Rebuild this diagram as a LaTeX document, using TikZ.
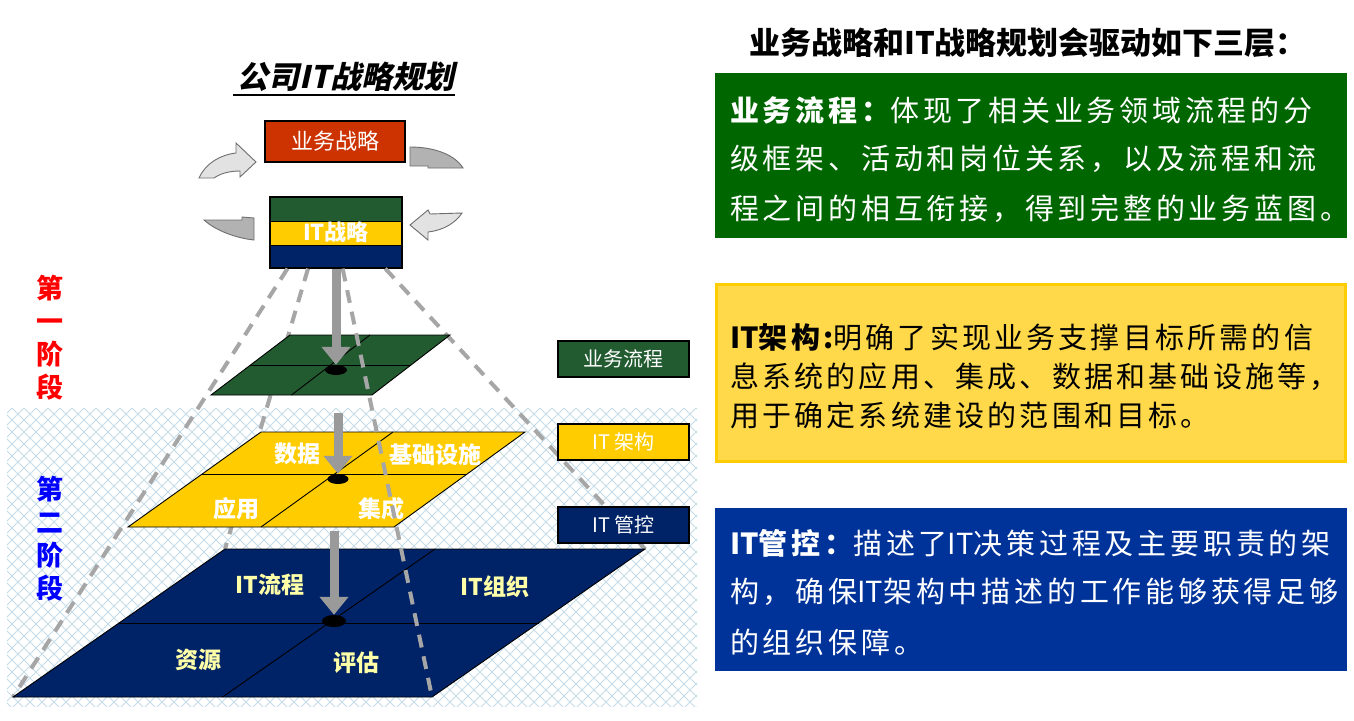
\documentclass[tikz,border=0pt]{standalone}
\usepackage{fontspec}
\setmainfont{Noto Sans CJK SC}
\newfontfamily\plainf{Noto Sans CJK SC}
\newfontfamily\wideA[LetterSpace=13]{Noto Sans CJK SC}
\newfontfamily\wideB[LetterSpace=11]{Noto Sans CJK SC}
\newfontfamily\slantf[FakeSlant=0.22]{Noto Sans CJK SC}
\usetikzlibrary{arrows.meta,calc,shapes.geometric}
\newcommand{\itx}{{\plainf IT}}

\definecolor{planegreen}{HTML}{235B31}
\definecolor{gold}{HTML}{FFCC00}
\definecolor{navy}{HTML}{002266}
\definecolor{brick}{HTML}{CC3300}
\definecolor{boxgreen}{HTML}{006600}
\definecolor{boxyellow}{HTML}{FFD94A}
\definecolor{boxblue}{HTML}{003399}
\definecolor{hatchc}{HTML}{C6DCE9}
\definecolor{dashgray}{HTML}{A6A6A6}
\definecolor{arrgray}{HTML}{9A9A9A}
\definecolor{paleyellow}{HTML}{FFFFA8}
\definecolor{lightarr}{HTML}{E2E2E2}
\definecolor{darkarr}{HTML}{B2B2B2}
\definecolor{arredge}{HTML}{6E6E6E}

\tikzset{
  smallbox/.style={draw=black, line width=1.2pt, minimum width=131pt, minimum height=36pt,
    inner sep=0pt, text=white, font=\fontsize{20}{24}\selectfont},
  plabel/.style={inner sep=0pt, font=\bfseries\fontsize{23}{26}\selectfont},
  stagetext/.style={inner sep=0pt, align=center, font=\bfseries\fontsize{27}{33}\selectfont},
  dashline/.style={dashgray, line width=4pt, dash pattern=on 13pt off 9pt},
  downarrow/.style={arrgray, line width=9pt, -{Triangle[length=18pt,width=28pt]}},
  dotshape/.style={ellipse, fill=black, inner sep=0pt},
  bodyw/.style={anchor=west, inner sep=0pt, text=white, font=\wideA\fontsize{29}{32}\selectfont},
  bodyy/.style={anchor=west, inner sep=0pt, text=black, font=\wideB\fontsize{29}{32}\selectfont},
  planeline/.style={black, line width=0.9pt},
  curvedlight/.style={fill=lightarr, draw=arredge, line width=0.9pt},
  curveddark/.style={fill=darkarr, draw=arredge, line width=0.9pt},
}

\begin{document}
\begin{tikzpicture}[x=1pt,y=-1pt]
\useasboundingbox[fill=white] (0,0) rectangle (1354,720);

% ---------- hatched background ----------
\begin{scope}
  \clip (7,408) rectangle (697,706);
  \foreach \i in {-300,-288,...,1000} {
    \draw[hatchc, line width=0.8pt] (\i,408) -- ++(300,300);
    \draw[hatchc, line width=0.8pt] (\i,408) -- ++(-300,300);
  }
\end{scope}

% ---------- plane corners ----------
\coordinate (NTL) at (225,549);
\coordinate (NTR) at (645,549);
\coordinate (NBR) at (432,697);
\coordinate (NBL) at (13,697);
\coordinate (YTL) at (261,432);
\coordinate (YTR) at (525,432);
\coordinate (YBR) at (394,527);
\coordinate (YBL) at (128,527);
\coordinate (GTL) at (290,335);
\coordinate (GTR) at (450,335);
\coordinate (GBR) at (372,395);
\coordinate (GBL) at (211,395);

% ---------- top boxes ----------
\node[draw=black, line width=1.2pt, fill=brick, minimum width=140pt, minimum height=41pt,
      inner sep=0pt, text=white, font=\fontsize{22}{24}\selectfont] (bs) at (335,141.5) {业务战略};

\fill[planegreen] (270,197) rectangle (402,221);
\fill[gold] (270,221) rectangle (402,245);
\fill[navy] (270,245) rectangle (402,268);
\draw[black, line width=0.6pt] (270,221) -- (402,221);
\draw[black, line width=0.6pt] (270,245) -- (402,245);
\node[draw=black, line width=1.2pt, minimum width=132pt, minimum height=71pt, inner sep=0pt,
      text=white, font=\bfseries\fontsize{22}{24}\selectfont] (its) at (336,232.5) {IT战略};

% ---------- title ----------
\node[inner sep=0pt, font=\slantf\bfseries\fontsize{31}{34}\selectfont] (title) at (346,77) {公司IT战略规划};
\draw[black, line width=1.5pt] ($(title.south west)+(-4,3)$) -- ($(title.south east)+(0,3)$);

% ---------- curved arrows ----------
\draw[curvedlight] (199,178) .. controls (206,163) and (220,155) .. (236,153) -- (236,143)
   -- (256,162) -- (240,177) -- (240,171) .. controls (228,171) and (220,174) .. (214,178) -- cycle;
\draw[curveddark] (410,147) .. controls (435,147) and (455,155) .. (463,168) -- (428,168)
   -- (428,166) -- (410,166) -- cycle;
\draw[curvedlight] (410,225) -- (428,210) -- (430,214) -- (462,213)
   .. controls (456,222) and (445,230) .. (428,232) -- (428,240) -- cycle;
\draw[curveddark] (204,220) -- (242,220) -- (242,217) -- (254,218) -- (254,240)
   .. controls (235,238) and (215,230) .. (204,220) -- cycle;

% ---------- dashed projection lines behind the planes ----------
\draw[dashline] ($(its.south west)!0.136!(its.south east)$) -- (NBL);
\draw[dashline] ($(its.south west)!0.29!(its.south east)$) -- (NTL);
\draw[dashline] ($(its.south west)!0.87!(its.south east)$) -- (NTR);

% ---------- planes ----------
\filldraw[fill=navy, draw=black, line width=0.9pt] (NTL) -- (NTR) -- (NBR) -- (NBL) -- cycle;
\draw[planeline] ($(NTL)!0.5!(NBL)$) -- ($(NTR)!0.5!(NBR)$);
\draw[planeline] ($(NTL)!0.5!(NTR)$) -- ($(NBL)!0.5!(NBR)$);

\filldraw[fill=gold, draw=black, line width=0.9pt] (YTL) -- (YTR) -- (YBR) -- (YBL) -- cycle;
\draw[planeline] ($(YTL)!0.45!(YBL)$) -- ($(YTR)!0.45!(YBR)$);
\draw[planeline] ($(YTL)!0.5!(YTR)$) -- ($(YBL)!0.5!(YBR)$);

\filldraw[fill=planegreen, draw=black, line width=0.9pt] (GTL) -- (GTR) -- (GBR) -- (GBL) -- cycle;
\draw[planeline] ($(GTL)!0.5!(GBL)$) -- ($(GTR)!0.5!(GBR)$);
\draw[planeline] ($(GTL)!0.5!(GTR)$) -- ($(GBL)!0.5!(GBR)$);

% ---------- plane labels ----------
\node[plabel, text=white] (y1) at (297,454) {数据};
\node[plabel, text=white] (y2) at (435,455) {基础设施};
\node[plabel, text=white] (y3) at (236,509) {应用};
\node[plabel, text=white] (y4) at (381,509) {集成};
\node[plabel, text=paleyellow] (n1) at (270,585) {IT流程};
\node[plabel, text=paleyellow] (n2) at (495,587) {IT组织};
\node[plabel, text=paleyellow] (n3) at (198,660) {资源};
\node[plabel, text=paleyellow] (n4) at (356,663) {评估};

% ---------- front dashed line ----------
\draw[dashline] ($(its.south west)!0.55!(its.south east)$) -- (NBR);

% ---------- dots and vertical arrows ----------
\node[dotshape, minimum width=22pt, minimum height=10pt] (gdot) at (336,370) {};
\node[dotshape, minimum width=21pt, minimum height=10pt] (ydot) at (338,479) {};
\node[dotshape, minimum width=24pt, minimum height=12pt] (ndot) at (334,621) {};
\coordinate (a2s) at (338,413);
\coordinate (a3s) at (334,531);
\draw[downarrow] (its.south) -- (gdot.north);
\draw[downarrow] (a2s) -- (ydot.north);
\draw[downarrow] (a3s) -- (ndot.north);

% ---------- side labels ----------
\node[smallbox, fill=planegreen] (lb1) at (623.5,359) {业务流程};
\node[smallbox, fill=gold] (lb2) at (623.5,442) {\raisebox{-3pt}{IT 架构}};
\node[smallbox, fill=navy] (lb3) at (623.5,525) {\raisebox{-3pt}{IT 管控}};

% ---------- stage labels ----------
\node[stagetext, text=red] (st1) at (50,338) {第\\一\\阶\\段};
\node[stagetext, text=blue] (st2) at (50,538.5) {第\\二\\阶\\段};

% ---------- right side ----------
\node[inner sep=0pt, font=\bfseries\fontsize{31}{34}\selectfont] (rtitle) at (1028,43) {业务战略和IT战略规划会驱动如下三层：};

\fill[boxgreen] (715,73) rectangle (1347,238);
\node[bodyw] (g1) at (730,110) {{\bfseries 业务流程：}体现了相关业务领域流程的分};
\node[bodyw] (g2) at (730,159) {级框架、活动和岗位关系，以及流程和流};
\node[bodyw] (g3) at (730,209) {程之间的相互衔接，得到完整的业务蓝图。};

\filldraw[fill=boxyellow, draw=gold, line width=3pt] (716.5,284.5) rectangle (1345.5,461);
\node[bodyy] (y5) at (730,338) {{\bfseries \itx 架构:}明确了实现业务支撑目标所需的信};
\node[bodyy] (y6) at (730,377) {息系统的应用、集成、数据和基础设施等，};
\node[bodyy] (y7) at (730,415) {用于确定系统建设的范围和目标。};

\fill[boxblue] (715,508) rectangle (1347,671);
\node[bodyw] (b1) at (730,543) {{\bfseries \itx 管控：}描述了\itx 决策过程及主要职责的架};
\node[bodyw] (b2) at (730,592) {构，确保\itx 架构中描述的工作能够获得足够};
\node[bodyw] (b3) at (730,642) {的组织保障。};
\end{tikzpicture}
\end{document}
